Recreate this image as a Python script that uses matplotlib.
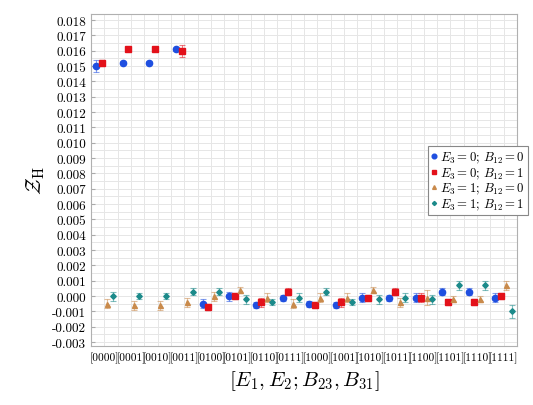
import numpy as np
import matplotlib
matplotlib.use("Agg")
import matplotlib.pyplot as plt
from matplotlib.ticker import MultipleLocator, FormatStrFormatter

plt.rcParams['font.family'] = 'serif'
plt.rcParams['font.serif'] = ['cmr10', 'DejaVu Serif']
plt.rcParams['mathtext.fontset'] = 'cm'
plt.rcParams['axes.unicode_minus'] = False
plt.rcParams['axes.formatter.use_mathtext'] = True

# data
labels = ['[0000]', '[0001]', '[0010]', '[0011]', '[0100]', '[0101]', '[0110]', '[0111]',
          '[1000]', '[1001]', '[1010]', '[1011]', '[1100]', '[1101]', '[1110]', '[1111]']

z_00 = [0.0150, 0.0152, 0.0152, 0.0161, -0.0005, 0.0000, -0.0006, -0.0001,
        -0.0005, -0.0006, -0.0001, -0.0001, -0.0001, 0.0003, 0.0003, -0.0001]
e_00 = [0.0004, 0.0001, 0.0001, 0.0001, 0.0003, 0.0003, 0.0002, 0.0002,
        0.0002, 0.0002, 0.0003, 0.0002, 0.0003, 0.0002, 0.0002, 0.0003]

z_01 = [0.0152, 0.0161, 0.0161, 0.0160, -0.0007, 0.0000, -0.0004, 0.0003,
        -0.0006, -0.0004, -0.0001, 0.0003, -0.0001, -0.0004, -0.0004, 0.0000]
e_01 = [0.0002, 0.0001, 0.0001, 0.0004, 0.0002, 0.0002, 0.0003, 0.0002,
        0.0002, 0.0003, 0.0002, 0.0002, 0.0003, 0.0002, 0.0002, 0.0002]

z_10 = [-0.0005, -0.0006, -0.0006, -0.0004, 0.0000, 0.0004, -0.0001, -0.0005,
        -0.0001, -0.0001, 0.0004, -0.0004, -0.0001, -0.0002, -0.0002, 0.0007]
e_10 = [0.0003, 0.0003, 0.0003, 0.0003, 0.0003, 0.0002, 0.0003, 0.0003,
        0.0003, 0.0003, 0.0002, 0.0003, 0.0005, 0.0002, 0.0002, 0.0003]

z_11 = [0.0000, 0.0000, 0.0000, 0.0003, 0.0003, -0.0002, -0.0004, -0.0001,
        0.0003, -0.0004, -0.0002, -0.0001, -0.0002, 0.0007, 0.0007, -0.0010]
e_11 = [0.0003, 0.0002, 0.0002, 0.0002, 0.0002, 0.0003, 0.0002, 0.0003,
        0.0002, 0.0002, 0.0003, 0.0003, 0.0003, 0.0003, 0.0003, 0.0004]

series = [
    (z_00, e_00, -0.31, '#1f4fe0', 'o', 4.5, r'$E_3 = 0;\, B_{12} = 0$'),
    (z_01, e_01, -0.10, '#e3111a', 's', 4.2, r'$E_3 = 0;\, B_{12} = 1$'),
    (z_10, e_10, 0.10, '#c98a4b', '^', 3.6, r'$E_3 = 1;\, B_{12} = 0$'),
    (z_11, e_11, 0.31, '#1b8a8a', 'D', 2.8, r'$E_3 = 1;\, B_{12} = 1$'),
]

fig = plt.figure(figsize=(5.33, 4.06), dpi=100)
ax = fig.add_axes([0.171, 0.145, 0.799, 0.818])

x = np.arange(len(labels))
handles = []
for z, e, off, col, mk, ms, lab in series:
    ax.errorbar(x + off, z, yerr=e, fmt='none', ecolor=col, elinewidth=0.8,
                capsize=2, capthick=0.8, alpha=0.55)
    h, = ax.plot(x + off, z, linestyle='none', marker=mk, color=col, ms=ms, label=lab)
    handles.append(h)

ax.set_xlim(-0.5, 15.5)
ax.set_ylim(-0.00326, 0.01839)
ax.set_xticks(x)
ax.set_xticklabels(labels, fontsize=8.2)
ax.set_xticks(x + 0.5, minor=True)
ax.yaxis.set_major_locator(MultipleLocator(0.001))
ax.yaxis.set_minor_locator(MultipleLocator(0.0005))
ax.yaxis.set_major_formatter(FormatStrFormatter('%.3f'))
ax.tick_params(axis='y', labelsize=9.5, direction='in', length=3, color='#aaaaaa')
ax.tick_params(axis='x', direction='in', length=0, pad=4)
ax.tick_params(which='minor', length=0)
ax.grid(True, which='both', color='#e6e6e6', linewidth=0.7)
ax.set_axisbelow(True)
for s in ax.spines.values():
    s.set_color('#b0b0b0')
    s.set_linewidth(0.8)

ax.set_ylabel(r'$\mathcal{Z}_{\rm H}$', fontsize=15, labelpad=4)
ax.set_xlabel(r'$[E_1, E_2; B_{23}, B_{31}]$', fontsize=15, labelpad=4)

leg = fig.legend(handles=handles, loc='upper right', bbox_to_anchor=(0.99, 0.637),
                 fontsize=9.2, handlelength=0.4, handletextpad=0.25, borderpad=0.25,
                 labelspacing=0.05, borderaxespad=0, fancybox=False, framealpha=1,
                 markerscale=0.75)
leg.get_frame().set_edgecolor('#888888')
leg.get_frame().set_linewidth(0.8)

fig.savefig('out.png', dpi=100)
